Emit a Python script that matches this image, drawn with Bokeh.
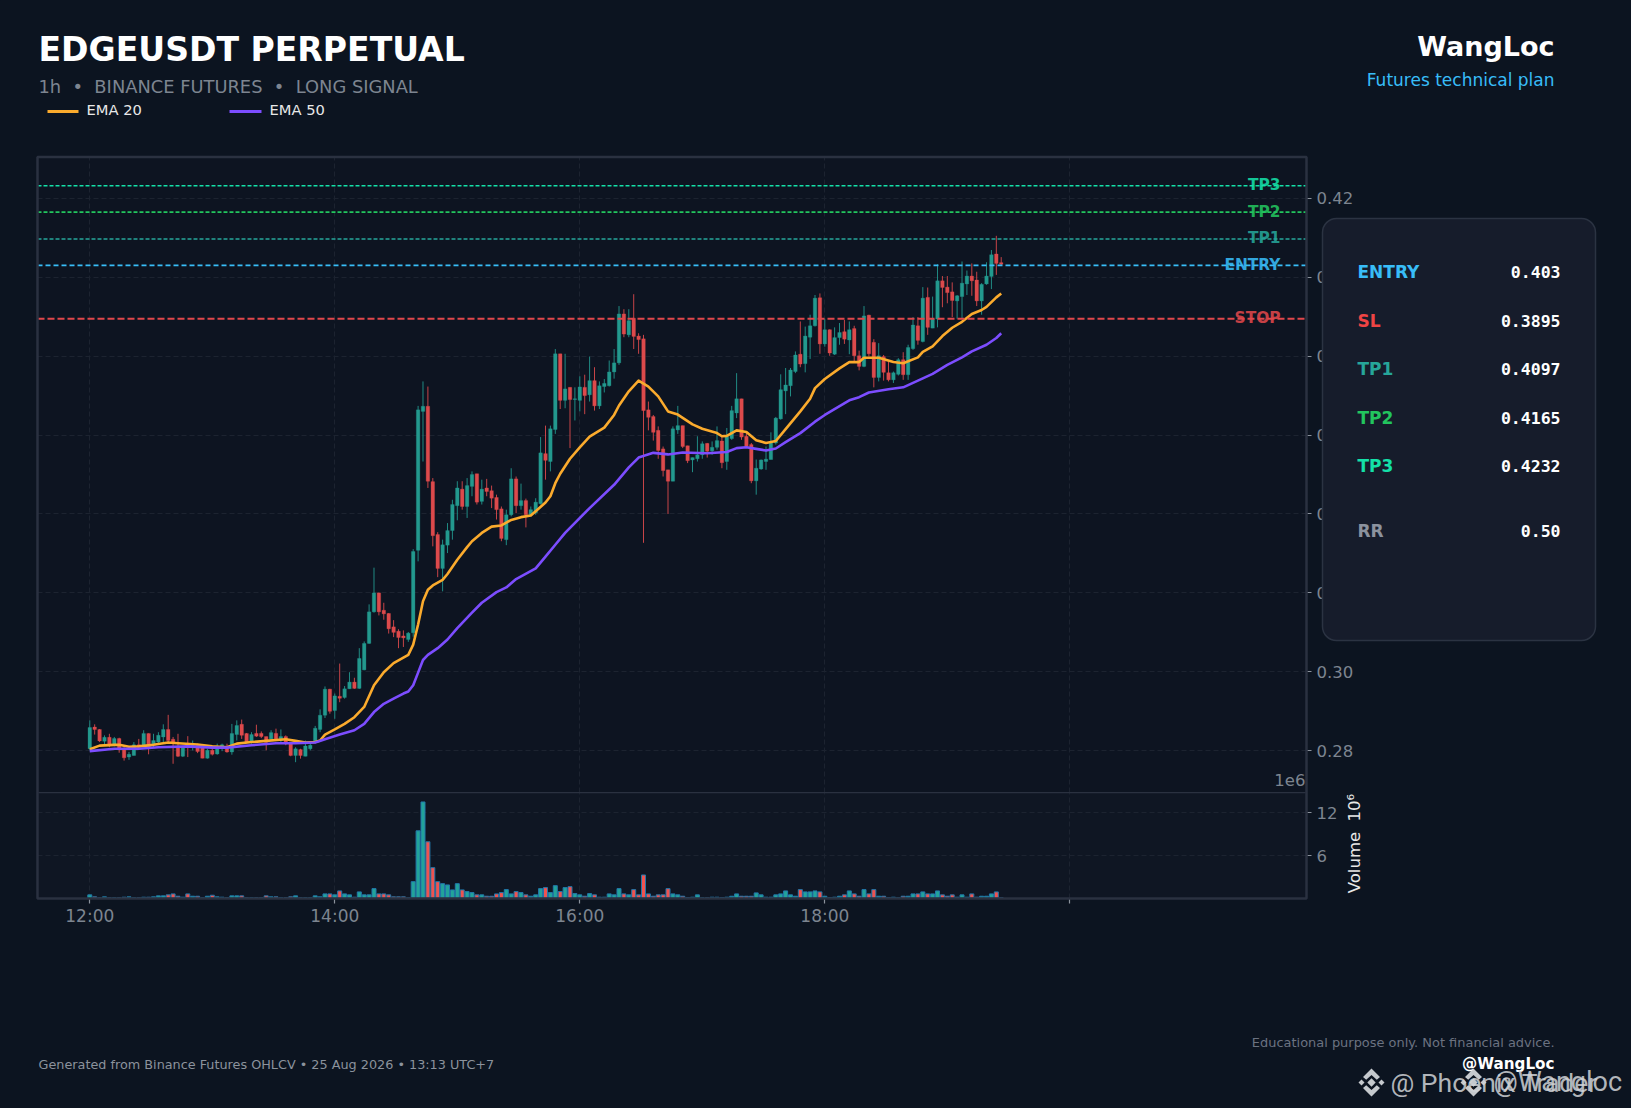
from bokeh.plotting import figure
from bokeh.layouts import column
from bokeh.models import (Range1d, FixedTicker, Label, BoxAnnotation, PolyAnnotation, Span, ColumnDataSource)
from bokeh.embed import file_html
from bokeh.resources import INLINE

opens = [2805,2860,2854,2824,2834,2815,2831,2803,2784,2788,
2815,2813,2844,2815,2822,2835,2854,2829,2811,2786,
2815,2809,2814,2809,2781,2801,2792,2808,2812,2797,
2841,2867,2844,2822,2844,2844,2836,2830,2844,2826,
2836,2819,2788,2803,2786,2805,2822,2854,2890,2956,
2902,2938,2935,2957,2974,2958,3005,3072,3152,3200,
3156,3148,3114,3103,3091,3082,3099,3308,3660,3673,
3482,3348,3262,3321,3358,3421,3463,3419,3470,3502,
3432,3466,3459,3442,3413,3335,3398,3489,3421,3434,
3398,3403,3426,3553,3533,3614,3806,3688,3721,3690,
3688,3721,3702,3738,3674,3723,3725,3760,3783,3907,
3854,3896,3851,3844,3664,3647,3612,3565,3512,3483,
3613,3624,3573,3537,3540,3550,3579,3560,3569,3585,
3533,3591,3656,3692,3597,3576,3484,3514,3533,3538,
3580,3641,3712,3725,3761,3805,3781,3848,3877,3948,
3831,3867,3805,3847,3862,3841,3870,3801,3774,3904,
3835,3746,3799,3758,3740,3754,3791,3753,3819,3877,
3837,3949,3871,3894,3991,3975,3963,3940,3951,3983,
4003,3993,3940,3983,4002,4059,4037]
highs = [2877,2867,2855,2839,2843,2835,2833,2809,2797,2822,
2830,2852,2844,2843,2847,2867,2891,2835,2843,2809,
2837,2826,2818,2813,2805,2809,2818,2818,2818,2868,
2877,2879,2845,2847,2866,2849,2836,2852,2856,2854,
2839,2822,2809,2805,2826,2822,2863,2905,2963,2957,
2945,3021,2964,2999,2985,3060,3077,3171,3264,3201,
3175,3149,3131,3108,3105,3101,3311,3674,3736,3723,
3491,3354,3335,3377,3436,3483,3483,3491,3508,3502,
3487,3489,3472,3449,3419,3411,3516,3495,3477,3439,
3419,3440,3595,3624,3624,3818,3806,3806,3721,3721,
3749,3753,3799,3772,3736,3742,3789,3818,3927,3919,
3919,3957,3858,3854,3685,3651,3622,3571,3512,3622,
3674,3624,3573,3543,3597,3584,3580,3584,3622,3597,
3618,3674,3757,3692,3609,3580,3538,3538,3571,3607,
3646,3754,3770,3770,3812,3888,3875,3905,3955,3959,
3895,3868,3873,3884,3892,3888,3877,3814,3927,3905,
3843,3833,3803,3786,3761,3795,3810,3829,3899,3899,
3975,3974,3951,4033,4003,4003,3987,3955,4040,4017,
4035,4014,3985,4038,4069,4105,4051]
lows = [2801,2841,2822,2816,2809,2811,2795,2775,2777,2788,
2805,2809,2791,2809,2818,2822,2822,2767,2784,2784,
2784,2801,2794,2781,2780,2788,2790,2799,2795,2790,
2826,2830,2819,2818,2835,2832,2801,2826,2826,2822,
2814,2786,2771,2780,2786,2801,2819,2847,2883,2894,
2881,2923,2932,2957,2957,2957,3004,3071,3150,3143,
3132,3097,3088,3060,3063,3076,3089,3280,3533,3466,
3318,3240,3204,3301,3335,3384,3411,3390,3445,3424,
3424,3445,3415,3386,3331,3321,3394,3402,3411,3366,
3394,3398,3424,3487,3508,3603,3666,3668,3567,3637,
3660,3653,3685,3662,3666,3708,3723,3743,3778,3848,
3848,3818,3806,3327,3612,3586,3540,3495,3400,3483,
3603,3567,3529,3506,3533,3540,3543,3550,3563,3516,
3512,3588,3643,3588,3571,3478,3449,3512,3512,3538,
3576,3639,3653,3698,3757,3772,3759,3793,3875,3806,
3824,3801,3803,3829,3831,3805,3786,3764,3772,3799,
3721,3736,3738,3736,3732,3751,3740,3740,3816,3829,
3835,3854,3871,3873,3924,3934,3899,3895,3895,3955,
3953,3927,3905,3981,3970,4006,4029]
closes = [2859,2854,2825,2834,2813,2831,2805,2782,2791,2815,
2809,2844,2809,2826,2839,2854,2826,2819,2786,2807,
2809,2814,2798,2781,2801,2791,2809,2815,2797,2844,
2864,2839,2822,2841,2837,2836,2821,2846,2830,2836,
2818,2788,2805,2788,2812,2814,2857,2890,2956,2900,
2939,2933,2957,2974,2958,3034,3072,3152,3200,3152,
3147,3109,3100,3087,3086,3098,3305,3664,3673,3483,
3345,3262,3322,3358,3424,3466,3419,3472,3500,3430,
3463,3457,3440,3411,3338,3398,3489,3421,3434,3398,
3411,3430,3555,3536,3616,3806,3688,3717,3690,3692,
3722,3700,3738,3674,3725,3731,3760,3783,3907,3856,
3890,3850,3842,3662,3645,3607,3561,3510,3483,3616,
3624,3571,3535,3543,3550,3578,3559,3569,3586,3530,
3597,3662,3692,3595,3571,3484,3516,3537,3539,3580,
3643,3715,3727,3765,3803,3780,3851,3877,3947,3831,
3867,3808,3847,3860,3843,3867,3801,3774,3902,3806,
3746,3801,3759,3740,3758,3791,3753,3822,3879,3840,
3947,3873,3894,3991,3974,3961,3941,3953,3985,4003,
3991,3940,3982,4003,4057,4035,4033]
# Volume, millions
volumes = [.47,.19,.05,.19,.05,.05,.05,.14,.19,.05,
.05,.14,.14,.19,.33,.33,.47,.61,.28,.14,
.61,.28,.28,.05,.28,.42,.19,.14,.05,.33,
.33,.33,.05,.05,.05,.05,.33,.19,.19,.05,
.05,.19,.33,.05,.05,.05,.33,.19,.61,.61,
.47,1.03,.61,.47,.14,.89,.47,.47,1.35,.61,
.61,.47,.19,.19,.19,.05,2.33,9.48,13.54,7.94,
4.30,2.33,2.05,1.87,1.17,2.05,1.17,.93,.79,.47,
.47,.28,.28,.61,.79,1.21,.61,.93,.79,.47,
.28,.47,1.35,1.49,.79,1.77,.93,1.49,1.63,.65,
.47,.28,.65,.47,.14,.14,.61,.47,1.35,.61,
.47,1.21,.47,3.27,.61,.28,.47,.47,1.35,.61,
.47,.28,.09,.14,.47,.05,.05,.14,.14,.09,
.14,.28,.61,.28,.28,.28,.75,.47,.14,.14,
.47,.61,1.03,.47,.28,1.21,.89,.89,1.03,.89,
.28,.09,.14,.28,.47,1.03,.61,.28,1.21,.61,
1.21,.28,.28,.09,.14,.05,.28,.28,.61,.61,
.89,.61,.61,1.03,.47,.28,.47,.14,.47,.14,
.61,.14,.28,.28,.61,.89,.05]

ema20_bars = [0,2,5,6,8,10,13,16,18,22,25,28,30,33,36,40,42,44,46,47,48,50,52,54,56,58,60,62,64,65,66,67,68,69,70,
72,73,75,77,78,80,82,84,86,88,90,93,94,95,96,98,100,102,105,107,108,110,112,114,116,118,120,123,125,128,129,130,
132,134,136,138,140,142,145,147,148,150,153,155,157,158,161,164,166,169,170,172,174,176,178,180,182,183,185,186]
ema20 = [2804,2813,2815,2815,2810,2811,2815,2821,2819,2816,2811,2809,2818,2822,2825,2829,2825,2821,2822,2826,2841,2854,2868,2885,2911,2966,2999,3022,3036,3043,3069,3120,3179,3208,3219,
3233,3248,3284,3316,3331,3352,3368,3371,3385,3392,3396,3429,3445,3478,3502,3540,3569,3596,3619,3651,3675,3711,3738,3723,3698,3660,3652,3627,3616,3605,3597,3598,
3612,3608,3587,3580,3585,3615,3660,3692,3719,3742,3769,3785,3785,3796,3796,3785,3782,3797,3811,3825,3851,3872,3887,3907,3917,3925,3949,3959]
ema50_bars = [0,5,10,14,20,25,28,33,38,42,46,48,51,54,56,58,60,62,64,65,66,67,68,69,71,73,75,78,80,83,85,87,91,93,95,97,102,107,110,112,115,118,121,126,130,132,134,136,138,140,142,145,148,150,155,157,159,163,166,169,172,175,178,180,183,185,186]
ema50 = [2799,2805,2805,2809,2811,2808,2808,2814,2819,2819,2821,2829,2841,2852,2868,2898,2919,2932,2945,2950,2966,2998,3030,3043,3060,3082,3111,3150,3175,3202,3214,3235,3262,3292,3322,3352,3415,3474,3518,3543,3555,3551,3556,3554,3557,3567,3569,3565,3561,3566,3582,3605,3634,3651,3688,3696,3708,3716,3721,3738,3755,3778,3797,3812,3829,3846,3858]

price_ticks = [0.28,0.30,0.32,0.34,0.36,0.38,0.40,0.42]
volume_ticks = [6,12]
bar_ticks = [0,50,100,150,200]
bar_tick_labels = ["12:00","14:00","16:00","18:00",""]

level_names = ["STOP","ENTRY","TP1","TP2","TP3"]
level_values = [0.3895,0.403,0.4097,0.4165,0.4232]
level_colors = ["#e0474b","#38bdf8","#26a69a","#22c55e","#14e0a8"]
level_widths = [2.0,1.6,1.6,1.6,1.6]
level_dashes = ["7 3","5 3","4 2","4 2","4 2"]

table_names = ["ENTRY","SL","TP1","TP2","TP3","RR"]
table_values = ["0.403","0.3895","0.4097","0.4165","0.4232","0.50"]
table_colors = ["#38bdf8","#ef4444","#26a69a","#22c55e","#14e0a8","#8b929e"]
table_baselines = [271.5,320.2,368.5,417.2,465.5,530.5]

BG = "#0c1420"
PANEL = "#0d1421"
VPANEL = "#0f1623"
EDGE = "#2a3140"
GRID = "#1c2330"
TICK = "#7d8590"
SANS = "DejaVu Sans"

bars = list(range(len(opens)))
x_range = Range1d(-10.67, 248.3)

def style(p, bg):
    p.background_fill_color = bg
    p.border_fill_color = BG
    p.outline_line_color = None
    p.min_border_left = 37
    p.min_border_right = 325

def style_axis(a, size="16.5px"):
    a.axis_line_color = None
    a.major_tick_line_color = "#8b929c"
    a.major_tick_line_width = 1.2
    a.major_tick_in = 0
    a.major_tick_out = 5
    a.minor_tick_line_color = None
    a.major_label_text_color = TICK
    a.major_label_text_font = SANS
    a.major_label_text_font_size = size
    a.major_label_standoff = 5

# ---------- price panel: page y 0..792, frame from y 156.5 ----------
p = figure(width=1631, height=792, x_range=x_range, y_range=Range1d(0.26942, 0.4306),
           y_axis_location="right", tools="", toolbar_location=None, output_backend="svg")
style(p, PANEL)
p.min_border_top = 156
p.min_border_bottom = 0
p.xaxis.visible = False
style_axis(p.yaxis[0])
p.yaxis[0].ticker = FixedTicker(ticks=price_ticks)
p.yaxis[0].major_label_overrides = {t: f"{t:.2f}" for t in price_ticks}
p.xgrid.ticker = FixedTicker(ticks=bar_ticks)
for g in (p.xgrid[0], p.ygrid[0]):
    g.grid_line_color = GRID
    g.grid_line_dash = "5 3"
    g.grid_line_width = 1

GREEN = "#23998e"
RED = "#dc4a4c"
cols = [GREEN if c >= o else RED for o, c in zip(opens, closes)]
src = ColumnDataSource(dict(
    x=bars,
    o=[v / 1e4 for v in opens], h=[v / 1e4 for v in highs],
    l=[v / 1e4 for v in lows], c=[v / 1e4 for v in closes],
    top=[max(a, b) / 1e4 for a, b in zip(opens, closes)],
    bot=[min(a, b) / 1e4 for a, b in zip(opens, closes)],
    col=cols))
p.segment("x", "h", "x", "l", source=src, line_color="col", line_width=0.9)
p.vbar(x="x", width=0.72, top="top", bottom="bot", source=src, fill_color="col", line_color="col", line_width=0.3)

p.line(ema20_bars, [v / 1e4 for v in ema20], line_color="#fbab2d", line_width=2.6, line_join="round")
p.line(ema50_bars, [v / 1e4 for v in ema50], line_color="#7c4dff", line_width=2.6, line_join="round")

for val, col, w, d in zip(level_values, level_colors, level_widths, level_dashes):
    p.add_layout(Span(location=val, dimension="width", line_color=col, line_width=w, line_dash=d))

for name, val, col in zip(level_names, level_values, level_colors):
    p.add_layout(Label(x=1280, y=val, x_units="canvas", y_units="data", y_offset=0.5, text=name,
                       text_font=SANS, text_font_size="15.4px", text_font_style="bold", text_color=col,
                       text_alpha=0.88, text_align="right", text_baseline="middle"))

# ---------- volume panel: page y 792..1108, frame to y 898 ----------
q = figure(width=1631, height=316, x_range=x_range, y_range=Range1d(-0.04, 14.87),
           y_axis_location="right", tools="", toolbar_location=None, output_backend="svg")
style(q, VPANEL)
q.min_border_top = 0
q.min_border_bottom = 210
style_axis(q.yaxis[0])
q.yaxis[0].ticker = FixedTicker(ticks=volume_ticks)
style_axis(q.xaxis[0], "17px")
q.xaxis[0].ticker = FixedTicker(ticks=bar_ticks)
q.xaxis[0].major_label_overrides = dict(zip(bar_ticks, bar_tick_labels))
q.xaxis[0].major_label_standoff = 2
q.xgrid.ticker = FixedTicker(ticks=bar_ticks)
q.ygrid.ticker = FixedTicker(ticks=volume_ticks)
for g in (q.xgrid[0], q.ygrid[0]):
    g.grid_line_color = GRID
    g.grid_line_dash = "5 3"
    g.grid_line_width = 1

vcols = ["#22a39a" if c >= o else "#ef5350" for o, c in zip(opens, closes)]
q.vbar(x=bars, width=0.82, top=volumes, bottom=0, fill_color=vcols, line_color="#2277aa", line_width=1)

# ---------- transparent page overlay for all titles, the card and the notes ----------
o = figure(width=1631, height=1108, x_range=Range1d(0, 1631), y_range=Range1d(1108, 0),
           tools="", toolbar_location=None, output_backend="svg",
           min_border=0, min_border_left=0, min_border_right=0, min_border_top=0, min_border_bottom=0,
           background_fill_color=None, border_fill_color=None, outline_line_color=None,
           x_axis_type=None, y_axis_type=None,
           styles={"position": "absolute", "left": "0px", "top": "0px"})
o.grid.visible = False

def text(x, y, s, size, color, align="left", base="alphabetic", style_="normal", font=SANS, alpha=1.0, angle=0.0):
    o.add_layout(Label(x=x, y=y, x_units="canvas", y_units="canvas", text=s,
                       text_font=font, text_font_size=f"{size}px", text_color=color,
                       text_align=align, text_baseline=base, text_font_style=style_,
                       text_alpha=alpha, angle=angle))

def box(l, r, t, b, **kw):
    o.add_layout(BoxAnnotation(left=l, right=r, top=t, bottom=b,
                               left_units="canvas", right_units="canvas", top_units="canvas", bottom_units="canvas",
                               **kw))

# chart frame and the line between the panels
box(37, 1306, 156.5, 898, fill_alpha=0, line_color=EDGE, line_alpha=1, line_width=2.5)
box(38, 1305, 791.4, 792.8, fill_color=EDGE, fill_alpha=1, line_color=None)

text(1305, 779.5, "1e6", 16.5, TICK, align="right")

# header
text(38, 48.5, "EDGEUSDT PERPETUAL", 33.1, "#ffffff", style_="bold")
text(38, 86, "1h\u00a0\u00a0\u2022\u00a0\u00a0BINANCE FUTURES\u00a0\u00a0\u2022\u00a0\u00a0LONG SIGNAL", 17.85, "#7d8590")
text(86, 109, "EMA 20", 14.7, "#e8e8e8")
text(269, 109, "EMA 50", 14.7, "#e8e8e8")
box(47, 78, 109.5, 112.5, fill_color="#fbab2d", fill_alpha=1, line_color=None)
box(229, 261, 109.5, 112.5, fill_color="#7c4dff", fill_alpha=1, line_color=None)
text(1554, 45.5, "WangLoc", 27, "#ffffff", align="right", style_="bold")
text(1554, 79.7, "Futures technical plan", 17, "#38bdf8", align="right")

# levels card
box(1322, 1595, 218, 640, fill_color="#161c2b", fill_alpha=1, line_color="#2b3342", line_alpha=1, line_width=1.5,
    border_radius=14)
for n, v, c, b in zip(table_names, table_values, table_colors, table_baselines):
    text(1357, b, n, 17, c, style_="bold")
    text(1560, b, v, 16.5, "#ffffff", align="right", style_="bold", font="DejaVu Sans Mono")

text(1354, 843, "Volume\u00a0\u00a010\u2076", 16.5, "#e8e8e8", align="center", base="middle", angle=1.5708)
text(38, 1064.3, "Generated from Binance Futures OHLCV \u2022 25 Aug 2026 \u2022 13:13 UTC+7", 12.8, "#8b929c")
text(1554, 1041.8, "Educational purpose only. Not financial advice.", 12.95, "#6b7280", align="right")
text(1554, 1063.8, "@WangLoc", 15.2, "#ffffff", align="right", style_="bold")

# watermark
WM = "#d0d3d7"
def logo(cx, cy):
    shapes = [
        [(cx, cy - 4.2), (cx + 4.2, cy), (cx, cy + 4.2), (cx - 4.2, cy)],
        [(cx - 10, cy - 3), (cx - 7, cy), (cx - 10, cy + 3), (cx - 13, cy)],
        [(cx + 10, cy - 3), (cx + 13, cy), (cx + 10, cy + 3), (cx + 7, cy)],
        [(cx, cy - 14), (cx + 8.5, cy - 5.5), (cx + 5.3, cy - 2.7), (cx, cy - 7.6), (cx - 5.3, cy - 2.7), (cx - 8.5, cy - 5.5)],
        [(cx, cy + 14), (cx + 8.5, cy + 5.5), (cx + 5.3, cy + 2.7), (cx, cy + 7.6), (cx - 5.3, cy + 2.7), (cx - 8.5, cy + 5.5)],
    ]
    for s in shapes:
        o.add_layout(PolyAnnotation(xs=[a for a, _ in s], ys=[b for _, b in s],
                                    xs_units="canvas", ys_units="canvas",
                                    fill_color=WM, fill_alpha=0.95, line_color=None))
logo(1371, 1082)
logo(1473, 1082)
text(1390, 1081.5, "@ Phoenix Trader", 26.5, WM, font="Roboto", alpha=0.85)
text(1493, 1081.5, "@Wangloc", 27, WM, font="Roboto", alpha=0.85)

html = file_html([column(p, q, spacing=0), o], INLINE)
html = html.replace("</head>", "<style>html,body{background:#0c1420;}</style></head>", 1)
open("out.html", "w").write(html)
